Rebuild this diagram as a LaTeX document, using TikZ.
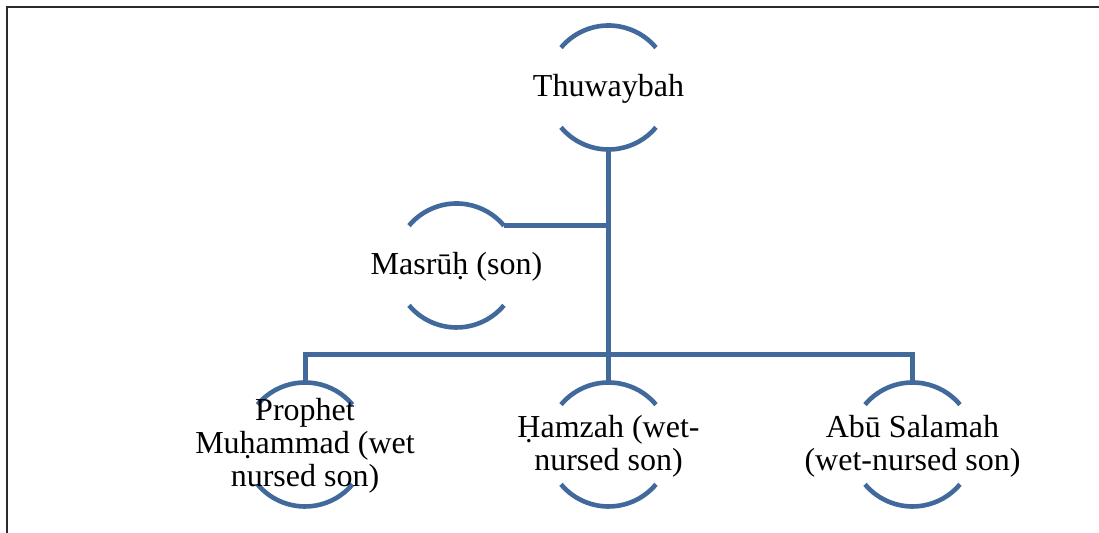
\documentclass[tikz,border=0pt]{standalone}
\usepackage{fontspec}
\setmainfont{Liberation Serif}
\usepackage{tikz}
\usetikzlibrary{positioning,calc}
\usepackage{xcolor}
\definecolor{arcblue}{HTML}{41699C}
\definecolor{dark}{HTML}{2B2B2B}
\tikzset{
  ring/.style={circle, minimum size=62pt, inner sep=0pt, outer sep=0pt},
  txt/.style={align=center, inner sep=0pt, yshift=-0.8pt, font=\fontsize{16}{16.4}\selectfont},
  arcline/.style={draw=arcblue, line width=2.3pt},
  link/.style={draw=arcblue, line width=2.5pt}
}

\begin{document}
\begin{tikzpicture}[x=1pt, y=1pt]
  \useasboundingbox (0,0) rectangle (549.5,266.5);
  \draw[draw=dark, line width=1pt] (3.5,0) -- (3.5,263) -- (549.5,263);
  % circles
  \node[ring] (thu) at (304.25,222.75) {};
  \node[ring] (mas) at (228.25,133.75) {};
  \node[ring] (pro) at (152.5,44.25) {};
  \node[ring] (ham) at (304.25,44.25) {};
  \node[ring] (abu) at (456.25,44.25) {};
  \coordinate (bar) at (0,89);
  \foreach \n in {thu,mas,pro,ham,abu} {
    \draw[arcline] (\n.140) arc[start angle=140, end angle=40, radius=31pt];
    \draw[arcline] (\n.-140) arc[start angle=-140, end angle=-40, radius=31pt];
  }
  % names
  \node[txt] (thu-t) at (thu) {Thuwaybah};
  \node[txt] (mas-t) at (mas) {Masrūḥ (son)};
  \node[txt] (pro-t) at (pro) {Prophet\\Muḥammad (wet\\nursed son)};
  \node[txt] (ham-t) at (ham) {Ḥamzah (wet-\\nursed son)};
  \node[txt] (abu-t) at (abu) {Abū Salamah\\(wet-nursed son)};
  % links
  \draw[link] (thu.south) -- (ham.north);
  \draw[link] (mas.40) -- (mas.40 -| thu.south);
  \draw[link] (pro.north) -- (pro.north |- bar) -- (abu.north |- bar) -- (abu.north);
\end{tikzpicture}
\end{document}
